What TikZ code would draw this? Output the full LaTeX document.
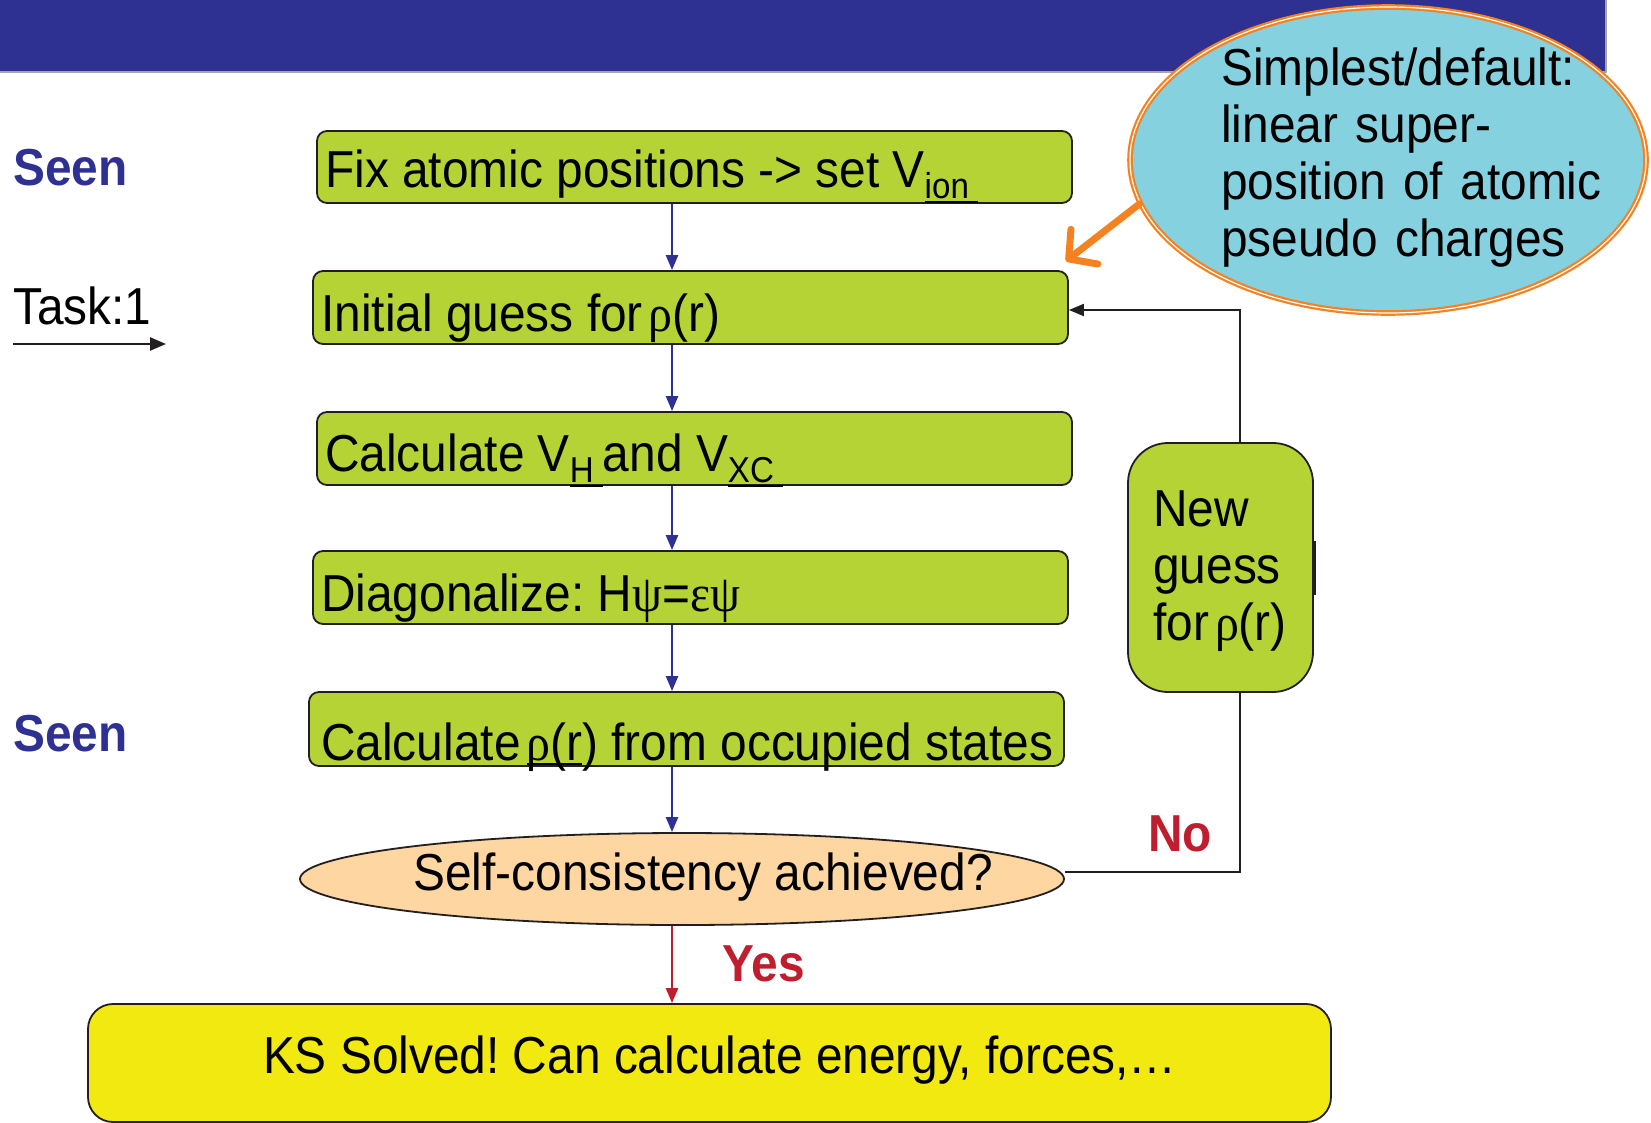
\documentclass[tikz,border=0pt]{standalone}
\usepackage{fontspec}
\setmainfont{Liberation Sans}[FakeStretch=0.92]
\newfontfamily\grk{Liberation Serif}[FakeStretch=0.92]
\usetikzlibrary{shapes.geometric,arrows.meta}
\definecolor{barblue}{RGB}{46,49,146}
\definecolor{boxgreen}{RGB}{181,211,52}
\definecolor{ksyellow}{RGB}{242,233,17}
\definecolor{peach}{RGB}{253,214,161}
\definecolor{skyfill}{RGB}{133,209,223}
\definecolor{orng}{RGB}{245,130,32}
\definecolor{redtxt}{RGB}{190,30,45}
\definecolor{ink}{RGB}{35,31,32}
\frenchspacing
\newcommand{\myul}[1]{{\setbox0=\hbox{#1}\rlap{\rule[-5pt]{\wd0}{2.5pt}}\box0}}
\newcommand{\mysub}[1]{\raisebox{-11pt}{\fontsize{36}{36}\selectfont\myul{#1\ }}}
\tikzset{
  fbox/.style={draw=ink, line width=1.8pt, fill=boxgreen, rounded corners=10pt,
    minimum width=755pt, minimum height=73pt, inner sep=0pt},
  txt/.style={inner sep=0pt, font=\fontsize{52}{57}\selectfont, anchor=base west},
  flowarrow/.style={draw=barblue, line width=2.4pt, -{Triangle[length=15pt,width=12pt]}},
  loopline/.style={draw=ink, line width=2pt},
  seen/.style={txt, font=\fontsize{52}{57}\selectfont\bfseries, text=barblue},
  redlbl/.style={txt, font=\fontsize{52}{57}\selectfont\bfseries, text=redtxt},
}
\begin{document}
\begin{tikzpicture}[x=1pt,y=-1pt]
\useasboundingbox (0,0) rectangle (1651,1122);
% banner
\fill[barblue] (0,0) rectangle (1606,72);
\draw[gray!70, line width=1.5pt] (0,72) -- (1606,72) -- (1606,0);

% left labels
\node[seen] (seen1) at (13,185) {Seen};
\node[txt] (task) at (13,324) {Task:1};
\coordinate (ta) at (13,344);
\coordinate (tb) at (166,344);
\draw[draw=ink, line width=2.5pt, -{Triangle[length=16pt,width=13pt]}] (ta) -- (tb);
\node[seen] (seen2) at (13,751) {Seen};

% boxes
\node[fbox, minimum height=72pt] (b1) at (694.5,167) {};
\node[fbox] (b2) at (690.5,307.5) {};
\node[fbox] (b3) at (694.5,448.5) {};
\node[fbox] (b4) at (690.5,587.5) {};
\node[fbox, minimum height=74pt] (b5) at (686.5,729) {};
\node[ellipse, draw=ink, line width=1.8pt, fill=peach, minimum width=764pt, minimum height=92pt, inner sep=0pt] (sc) at (682,879) {};
\node[draw=ink, line width=1.8pt, fill=ksyellow, rounded corners=25pt, minimum width=1243pt, minimum height=118pt, inner sep=0pt] (ks) at (709.5,1063) {};
\node[fbox, rounded corners=40pt, minimum width=185pt, minimum height=249pt] (ng) at (1220.5,567.5) {};

% box texts
\node[txt] (t1) at (325,187) {Fix atomic positions -> set V\mysub{ion}};
\node[txt] (t2) at (321,331) {Initial guess for\hspace{6pt}{\grk ρ}(r)};
\node[txt] (t3) at (325,471) {Calculate V\mysub{H}and V\mysub{XC}};
\node[txt] (t4) at (321,611) {Diagonalize: H{\grk ψ}={\grk εψ}};
\node[txt] (t5) at (321,760) {Calculate\hspace{6pt}\myul{{\grk ρ}(r}) from occupied states};
\node[txt, anchor=base] (tsc) at (703,890) {Self-consistency achieved?};
\node[txt, anchor=base] (tks) at (720,1073) {KS Solved! Can calculate energy, forces,…};
\node[txt, text width=170pt, align=left] (tng) at (1153,526) {New\\guess\\for\hspace{6pt}{\grk ρ}(r)};
\draw[ink, line width=3.5pt] ([yshift=27pt]ng.east) -- ([yshift=-27pt]ng.east);

% vertical flow
\coordinate (cx) at (672,0);
\draw[flowarrow] (b1.south -| cx) -- (b2.north -| cx);
\draw[flowarrow] (b2.south -| cx) -- (b3.north -| cx);
\draw[flowarrow] (b3.south -| cx) -- (b4.north -| cx);
\draw[flowarrow] (b4.south -| cx) -- (b5.north -| cx);
\draw[flowarrow] (b5.south -| cx) -- (sc.north -| cx);
\draw[draw=redtxt, line width=2.4pt, -{Triangle[length=15pt,width=12pt]}] (sc.south -| cx) -- (ks.north -| cx);

\node[redlbl] (yes) at (722,981) {Yes};
\node[redlbl] (no) at (1148,851) {No};

% feedback loop
\coordinate (fx) at (1240,0);
\coordinate (fy) at (0,310);
\coordinate (fz) at (0,872);
\draw[loopline] (sc.east |- fz) -- (fx |- fz) -- (ng.south -| fx);
\draw[loopline, -{Triangle[length=15pt,width=12pt]}] (ng.north -| fx) -- (fx |- fy) -- (b2.east |- fy);

% callout ellipse
\node[ellipse, draw=orng, double=white, double distance=1.2pt, line width=2.2pt, fill=skyfill, minimum width=516pt, minimum height=306pt, inner sep=0pt] (be) at (1388,160) {};
\node[txt, text width=420pt, align=left] (tbe) at (1221,85) {Simplest/default:\\linear super-\\position of atomic\\pseudo charges};
\draw[orng, line width=7pt, line cap=round, -{Straight Barb[round,length=20pt,width=44pt]}] (be.190) -- ([xshift=-3pt,yshift=9pt]b2.north east);
\end{tikzpicture}
\end{document}
